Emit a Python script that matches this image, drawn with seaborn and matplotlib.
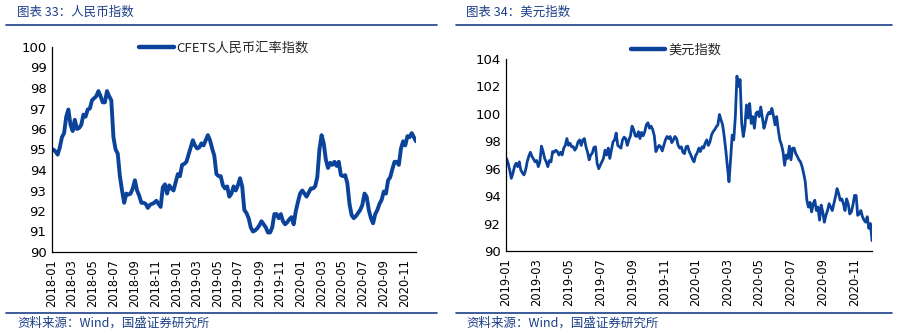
import numpy as np
import pandas as pd
import matplotlib
matplotlib.use("Agg")
import matplotlib.pyplot as plt
import matplotlib.dates as mdates
from matplotlib.lines import Line2D
import seaborn as sns

# ---- data -------------------------------------------------------------
# CFETS RMB index, weekly, 2018-01 .. 2020-12
cfets_start, cfets_end = "2018-01-05", "2020-12-04"
cfets_values = [
    95.0, 94.9, 94.75, 95.1, 95.6, 95.8, 96.6, 96.95, 96.2, 95.9, 96.45, 96.0,
    96.05, 96.2, 96.7, 96.6, 96.95, 97.0, 97.4, 97.5, 97.6, 97.85, 97.6, 97.3,
    97.3, 97.85, 97.6, 97.4, 95.6, 95.0, 94.8, 93.7, 93.0, 92.4, 92.85, 92.8,
    92.85, 93.1, 93.5, 93.0, 92.75, 92.4, 92.4, 92.35, 92.15, 92.3, 92.35, 92.4,
    92.5, 92.35, 92.2, 93.15, 93.3, 92.85, 93.25, 93.1, 93.0, 93.4, 93.8, 93.7,
    94.25, 94.3, 94.4, 94.75, 95.1, 95.45, 95.2, 95.05, 95.1, 95.3, 95.2, 95.45,
    95.7, 95.45, 95.05, 94.7, 93.8, 93.7, 93.7, 93.25, 93.1, 93.2, 92.7, 92.85,
    93.2, 93.0, 93.25, 93.6, 93.2, 92.05, 91.9, 91.65, 91.2, 91.0, 91.05, 91.15,
    91.3, 91.5, 91.35, 91.2, 90.95, 90.95, 91.2, 91.85, 91.85, 91.65, 91.85, 91.5,
    91.35, 91.45, 91.6, 91.7, 91.35, 92.0, 92.45, 92.85, 93.0, 92.85, 92.7, 92.9,
    93.1, 93.1, 93.2, 93.65, 95.0, 95.7, 95.3, 94.5, 94.1, 94.35, 94.25, 94.4,
    94.2, 94.4, 93.75, 93.7, 93.75, 93.35, 92.35, 91.8, 91.65, 91.75, 91.9, 92.05,
    92.3, 92.85, 92.7, 92.05, 91.65, 91.4, 91.85, 92.05, 92.35, 92.55, 92.95, 92.85,
    93.5, 93.65, 94.05, 94.4, 94.4, 94.25, 95.05, 95.4, 95.2, 95.65, 95.6, 95.8,
    95.6, 95.4,
]
cfets_label = "CFETS人民币汇率指数"
cfets_xlim = ("2018-01-01", "2020-12-04")
cfets_yticks = list(range(90, 101, 1))

# US dollar index, daily, 2019-01 .. 2020-12
dxy_start, dxy_end = "2019-01-02", "2020-12-04"
dxy_values = [
    96.75, 96.4, 95.9, 95.3, 95.65, 96.15, 96.4, 96.15, 96.5, 95.9, 95.7, 95.55,
    95.9, 96.5, 96.9, 97.2, 96.9, 96.7, 96.5, 96.6, 96.15, 96.5, 97.65, 97.25,
    96.75, 96.5, 96.15, 96.6, 96.5, 97.25, 97.2, 97.35, 97.25, 97.0, 97.2, 97.0,
    97.5, 97.7, 98.2, 97.7, 97.85, 97.6, 97.6, 97.35, 97.55, 97.95, 98.1, 97.7,
    98.1, 98.2, 97.6, 97.2, 96.65, 97.0, 97.15, 97.55, 97.6, 96.4, 96.0, 96.25,
    96.5, 96.75, 97.35, 97.0, 97.5, 96.75, 97.35, 97.95, 98.1, 98.6, 97.7, 97.6,
    97.5, 98.1, 98.3, 98.2, 97.7, 98.1, 98.4, 99.1, 98.85, 98.4, 98.35, 98.7,
    98.2, 98.65, 98.4, 98.7, 99.2, 99.35, 98.95, 99.1, 98.85, 98.4, 97.25, 97.5,
    97.7, 97.6, 97.3, 97.7, 98.1, 98.35, 98.2, 98.35, 97.9, 98.1, 98.35, 98.2,
    97.7, 97.5, 97.6, 97.2, 97.1, 97.6, 97.65, 97.25, 97.0, 96.7, 96.5, 96.95,
    97.15, 97.5, 97.25, 97.6, 97.5, 97.85, 98.1, 97.7, 97.95, 98.45, 98.7, 98.85,
    99.05, 99.2, 99.95, 99.55, 99.2, 98.35, 97.35, 96.15, 95.05, 96.65, 98.45, 98.1,
    99.8, 102.75, 102.0, 102.5, 99.3, 98.35, 99.05, 100.65, 99.7, 100.75, 99.3, 99.8,
    98.95, 100.05, 100.15, 99.8, 100.5, 99.75, 98.95, 99.35, 99.85, 100.1, 100.0, 100.4,
    99.85, 99.2, 99.8, 98.85, 98.1, 97.75, 97.25, 96.25, 97.0, 96.75, 97.65, 96.65,
    97.5, 97.5, 97.1, 96.9, 96.65, 96.5, 96.15, 95.65, 95.05, 93.7, 93.2, 93.55,
    92.85, 93.45, 93.7, 92.95, 93.2, 92.25, 93.35, 92.85, 92.1, 92.6, 92.95, 93.45,
    93.2, 92.95, 93.45, 93.95, 94.55, 94.2, 93.7, 93.8, 93.45, 92.95, 93.8, 93.45,
    92.7, 92.85, 93.35, 94.05, 94.05, 92.6, 92.7, 92.95, 92.5, 92.25, 92.1, 92.5,
    91.65, 92.0, 90.75,
]
dxy_label = "美元指数"
dxy_xlim = ("2019-01-01", "2020-12-04")
dxy_yticks = list(range(90, 105, 2))

titles = ["图表 33：人民币指数", "图表 34：美元指数"]
source_text = "资料来源：Wind，国盛证券研究所"

# ---- style ------------------------------------------------------------
sns.set_style("white")
plt.rcParams["font.family"] = ["DejaVu Sans", "Noto Sans CJK SC"]
CJK = ["Noto Sans CJK SC", "DejaVu Sans"]
LINE_BLUE = "#0b439b"
HEAD_BLUE = "#1b3f86"

W, H = 898, 334
fig = plt.figure(figsize=(W / 100, H / 100), dpi=100)


def fx(px):
    return px / W


def fy(py):
    return 1 - py / H


def make_frame(start, end, values, label):
    dates = pd.date_range(start, end, periods=len(values))
    return pd.DataFrame({"date": dates, "value": values, "series": label})


def draw_panel(rect, df, xlim, yticks, lw, legend_xy):
    ax = fig.add_axes(rect)
    sns.lineplot(data=df, x="date", y="value", hue="series",
                 palette=[LINE_BLUE], linewidth=lw, ax=ax, legend=True)
    ax.set_xlim(pd.Timestamp(xlim[0]), pd.Timestamp(xlim[1]))
    ax.set_ylim(yticks[0], yticks[-1])
    ax.set_yticks(yticks)
    ax.xaxis.set_major_locator(mdates.MonthLocator(bymonth=[1, 3, 5, 7, 9, 11]))
    ax.xaxis.set_major_formatter(mdates.DateFormatter("%Y-%m"))
    ax.set_xlabel("")
    ax.set_ylabel("")
    for s in ("top", "right"):
        ax.spines[s].set_visible(False)
    for s in ("left", "bottom"):
        ax.spines[s].set_color("black")
        ax.spines[s].set_linewidth(0.9)
    ax.tick_params(axis="both", direction="in", length=3.5, width=0.8,
                   color="black", labelcolor="black")
    ax.tick_params(axis="y", labelsize=9.5, pad=4)
    ax.tick_params(axis="x", labelsize=8.3, pad=5, labelrotation=90)
    leg = ax.legend(loc="center", bbox_to_anchor=legend_xy,
                    bbox_transform=fig.transFigure, frameon=False,
                    handlelength=2.6, handletextpad=0.2, borderpad=0,
                    prop={"family": CJK, "size": 9.5})
    for ln in leg.get_lines():
        ln.set_linewidth(3.2)
    return ax


df_cfets = make_frame(cfets_start, cfets_end, cfets_values, cfets_label)
df_dxy = make_frame(dxy_start, dxy_end, dxy_values, dxy_label)

draw_panel([fx(52), fy(252), fx(416 - 52), (252 - 47) / H], df_cfets,
           cfets_xlim, cfets_yticks, 2.8, (fx(224), fy(48)))
draw_panel([fx(506), fy(251), fx(872 - 506), (251 - 59) / H], df_dxy,
           dxy_xlim, dxy_yticks, 2.0, (fx(676), fy(50)))

# ---- headers and footers ----------------------------------------------
for x0, x1, tx, title in [(6, 437, 17, titles[0]), (456, 892, 466, titles[1])]:
    fig.add_artist(Line2D([fx(x0), fx(x1)], [fy(25), fy(25)],
                          color=HEAD_BLUE, linewidth=1.2))
    fig.add_artist(Line2D([fx(x0), fx(x1)], [fy(313), fy(313)],
                          color=HEAD_BLUE, linewidth=1.2))
    fig.text(fx(tx), fy(12.5), title, family=CJK, fontsize=9,
             style="italic", color=HEAD_BLUE, ha="left", va="center")
    fig.text(fx(tx), fy(323), source_text, family=CJK, fontsize=9,
             style="italic", color=HEAD_BLUE, ha="left", va="center")

fig.savefig("out.png", dpi=100)
